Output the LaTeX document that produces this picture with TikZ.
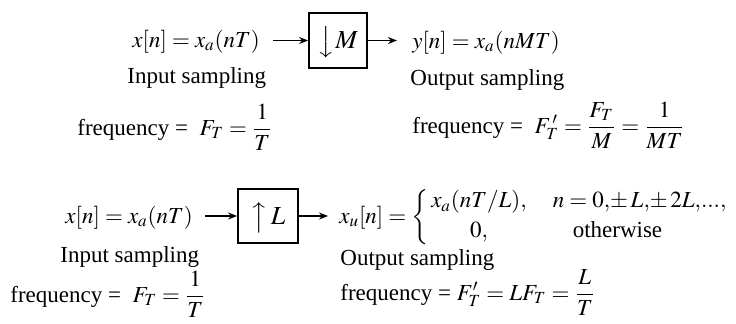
\documentclass[tikz,border=0pt]{standalone}
\usepackage{amsmath}
\usepackage{mathptmx}
\usepackage{fontspec}
\setmainfont{Liberation Serif}
\usetikzlibrary{arrows.meta}
\begin{document}
\begin{tikzpicture}[x=0.5pt,y=-0.5pt,
  lbl/.style={anchor=base west,inner sep=0pt,font=\fontsize{11.5}{14}\selectfont},
  blk/.style={draw,line width=0.9pt,inner sep=0pt,font=\fontsize{13}{15}\selectfont},
  sig/.style={-{Stealth[length=4.5pt,width=3.5pt]},line width=0.7pt}]
\useasboundingbox (0,0) rectangle (736,323);
% ---------- decimator ----------
\node[blk,minimum width=29pt,minimum height=27.5pt] (boxM) at (338,40.5) {$\smash{\big\downarrow}M$};
\coordinate (in1) at (273,40.5);
\coordinate (out1) at (397,40.5);
\draw[sig] (in1) -- (boxM);
\draw[sig] (boxM) -- (out1);
\node[lbl] (t1) at (132,47) {$x[n] = x_{a}(nT)$};
\node[lbl] (t2) at (127,83) {Input sampling};
\node[lbl] (t3) at (77,135) {frequency = \ $F_T = \dfrac{1}{T}$};
\node[lbl] (t4) at (412,48) {$y[n] = x_{a}(nMT)$};
\node[lbl] (t5) at (410,85) {Output sampling};
\node[lbl] (t6) at (412,133) {frequency = \ $F_T^{\,\prime} = \dfrac{F_T}{M} = \dfrac{1}{MT}$};
% ---------- interpolator ----------
\node[blk,minimum width=30pt,minimum height=27pt] (boxL) at (268,216) {$\smash{\big\uparrow}\,L$};
\coordinate (in2) at (205,216);
\coordinate (out2) at (328,216);
\draw[sig] (in2) -- (boxL);
\draw[sig] (boxL) -- (out2);
\node[lbl] (b1) at (65,223) {$x[n] = x_{a}(nT)$};
\node[lbl] (b2) at (60,262) {Input sampling};
\node[lbl] (b3) at (10,302) {frequency = \ $F_T = \dfrac{1}{T}$};
\node[lbl] (b4) at (339,223) {$x_u[n] = \left\{\begin{array}{@{\,}c@{\hspace{13pt}}l@{}}
  x_a(nT/L), & n = 0{,}{\pm}\,L{,}{\pm}\,2L{,}...{,} \\[1pt]
  0, & \hspace{10pt}\text{otherwise}\end{array}\right.$};
\node[lbl] (b5) at (340,265) {Output sampling};
\node[lbl] (b6) at (340,300) {frequency = $F'_T = LF_T = \dfrac{L}{T}$};
\end{tikzpicture}
\end{document}
